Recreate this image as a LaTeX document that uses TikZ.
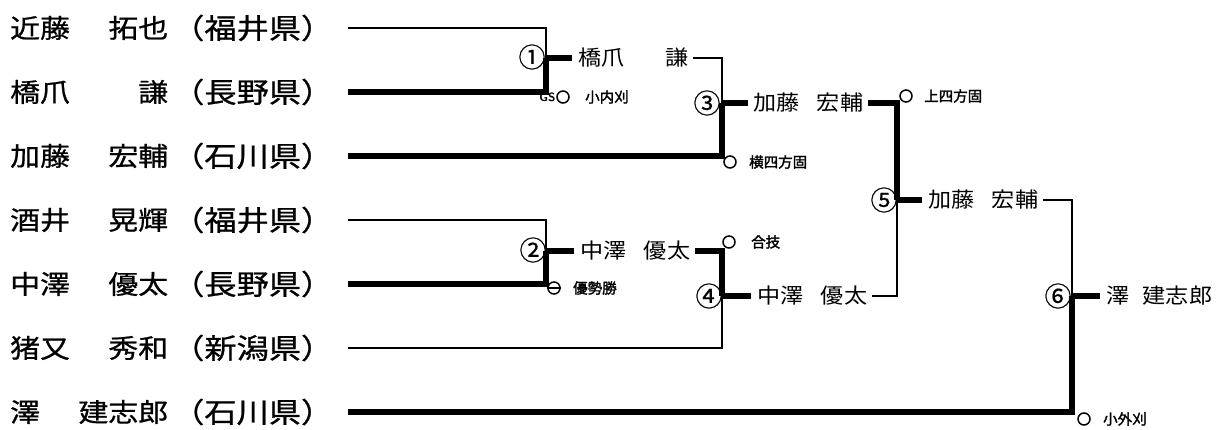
\documentclass[tikz,border=0pt]{standalone}
\usepackage{fontspec}
\newfontfamily\jpn[FakeStretch=1.15,FakeBold=0.8]{Noto Sans CJK JP}
\newfontfamily\jpt[FakeStretch=1.1]{Noto Sans CJK JP}
\newfontfamily\jpc[FakeBold=0.5]{Noto Sans CJK JP}
\newfontfamily\jpb[FakeBold=2]{Noto Sans CJK JP}
\begin{document}
\begin{tikzpicture}[x=1pt,y=-1pt,
  thn/.style={line width=2.6pt,line join=miter},
  thk/.style={line width=6pt,line join=miter},
  lname/.style={anchor=west,inner sep=0,font=\fontsize{26}{26}\selectfont\jpn},
  pref/.style={anchor=west,inner sep=0,font=\fontsize{28}{28}\selectfont\jpn},
  tname/.style={anchor=west,inner sep=0,font=\fontsize{21}{21}\selectfont\jpt},
  num/.style={inner sep=0,font=\fontsize{27}{27}\selectfont\jpc},
  ring/.style={circle,draw,line width=1.5pt,minimum size=12pt,inner sep=0},
  tech/.style={anchor=west,inner sep=0,font=\fontsize{14.5}{14.5}\selectfont\jpb},
  gs/.style={anchor=east,inner sep=0.5pt,font=\fontsize{12}{12}\selectfont\sffamily\bfseries}
]
\useasboundingbox (0,0) rectangle (1218,430);
% entrants
\node[lname] (p1) at (10,28)  {\hbox to 158pt{近藤\hfill 拓也}};
\node[pref]  (q1) at (172,28) {（福井県）};
\node[lname] (p2) at (10,92)  {\hbox to 158pt{橋爪\hfill 謙}};
\node[pref]  (q2) at (172,92) {（長野県）};
\node[lname] (p3) at (10,156) {\hbox to 158pt{加藤\hfill 宏輔}};
\node[pref]  (q3) at (172,156) {（石川県）};
\node[lname] (p4) at (10,220) {\hbox to 158pt{酒井\hfill 晃輝}};
\node[pref]  (q4) at (172,220) {（福井県）};
\node[lname] (p5) at (10,284) {\hbox to 158pt{中澤\hfill 優太}};
\node[pref]  (q5) at (172,284) {（長野県）};
\node[lname] (p6) at (10,348) {\hbox to 158pt{猪又\hfill 秀和}};
\node[pref]  (q6) at (172,348) {（新潟県）};
\node[lname] (p7) at (10,412) {\hbox to 158pt{澤\hfill 建志郎}};
\node[pref]  (q7) at (172,412) {（石川県）};
% line starts
\coordinate (a1) at (348,28);
\coordinate (a2) at (348,92);
\coordinate (a3) at (348,156);
\coordinate (a4) at (348,220);
\coordinate (a5) at (348,284);
\coordinate (a6) at (348,348);
\coordinate (a7) at (348,412);
% junctions
\coordinate (j1) at (546,58);
\coordinate (j2) at (546,251);
\coordinate (j3) at (722,103);
\coordinate (j4) at (722,296);
\coordinate (j5) at (897,200);
\coordinate (j6) at (1072,296);
% winners
\node[tname] (w1) at (578,58)  {\hbox to 110pt{橋爪\hfill 謙}};
\node[tname] (w2) at (580,251) {\hbox to 110pt{中澤\hfill 優太}};
\node[tname] (w3) at (753,103) {\hbox to 110pt{加藤\hfill 宏輔}};
\node[tname] (w4) at (757,296) {\hbox to 110pt{中澤\hfill 優太}};
\node[tname] (w5) at (928,200) {\hbox to 110pt{加藤\hfill 宏輔}};
\node[tname] (w6) at (1106,296) {\hbox to 106pt{澤\hfill 建志郎}};
% bout numbers
\node[num] (n1) at (532,57) {①};
\node[num] (n2) at (533,250) {②};
\node[num] (n3) at (707,103) {③};
\node[num] (n4) at (709,296) {④};
\node[num] (n5) at (884,200) {⑤};
\node[num] (n6) at (1058,296) {⑥};
% connectors
\draw[thn] (a1) -| (j1);
\draw[thk] (a2) -| (j1);
\draw[thk] (j1) -- ([xshift=-6pt]w1.west);
\draw[thn] ([xshift=5pt]w1.east) -| (j3);
\draw[thk] (a3) -| (j3);
\draw[thk] (j3) -- ([xshift=-5pt]w3.west);
\draw[thk] ([xshift=5pt]w3.east) -| (j5);
\draw[thn] (a4) -| (j2);
\draw[thk] (a5) -| (j2);
\draw[thk] (j2) -- ([xshift=-6pt]w2.west);
\draw[thk] ([xshift=5pt]w2.east) -| (j4);
\draw[thn] (a6) -| (j4);
\draw[thk] (j4) -- ([xshift=-6pt]w4.west);
\draw[thn] ([xshift=5pt]w4.east) -| (j5);
\draw[thk] (j5) -- ([xshift=-6pt]w5.west);
\draw[thn] ([xshift=5pt]w5.east) -| (j6);
\draw[thk] (a7) -| (j6);
\draw[thk] (j6) -- ([xshift=-6pt]w6.west);
% techniques
\node[ring] (c1) at (563,97) {};
\node[gs] (g1) at (c1.west) {GS};
\node[tech] (t1) at (585,97) {小内刈};
\node[ring] (c3) at (730,162) {};
\node[tech] (t3) at (749,162) {横四方固};
\node[ring] (c5) at (906,96) {};
\node[tech] (t5) at (924,96) {上四方固};
\node[ring] (c2) at (554,288) {};
\draw[line width=1.5pt] (c2.west) -- (c2.east);
\node[tech] (t2) at (573,288) {優勢勝};
\node[ring] (c4) at (729,242) {};
\node[tech] (t4) at (751,242) {合技};
\node[ring] (c6) at (1084,419) {};
\node[tech] (t6) at (1103,419) {小外刈};
\end{tikzpicture}
\end{document}
